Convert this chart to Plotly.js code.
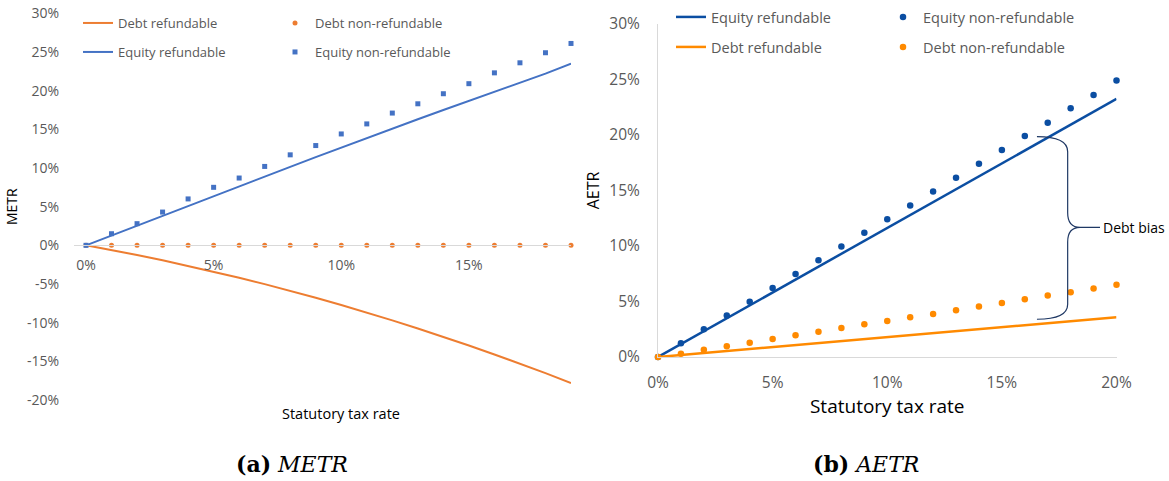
<!DOCTYPE html>
<html>
<head>
<meta charset="utf-8">
<script src="https://cdn.plot.ly/plotly-3.0.1.min.js"></script>
<style>html,body{margin:0;padding:0;background:#fff;}#chart{width:1169px;height:481px;}</style>
</head>
<body>
<div id="chart"></div>
<script>
// ---- Panel (a): METR ----
const taxA = [0,1,2,3,4,5,6,7,8,9,10,11,12,13,14,15,16,17,18,19];
const metrDebtRefundable = [0,-0.61,-1.25,-1.93,-2.65,-3.40,-4.19,-5.02,-5.88,-6.78,-7.72,-8.69,-9.70,-10.75,-11.83,-12.95,-14.11,-15.30,-16.53,-17.80];
const metrDebtNonRefundable = [0,0,0,0,0,0,0,0,0,0,0,0,0,0,0,0,0,0,0,0];
const metrEquityRefundable = [0,1.28,2.55,3.83,5.10,6.37,7.63,8.90,10.15,11.40,12.65,13.88,15.10,16.30,17.50,18.68,19.85,21.00,22.20,23.50];
const metrEquityNonRefundable = [0,1.5,2.8,4.3,6.0,7.5,8.7,10.2,11.7,12.9,14.4,15.7,17.1,18.3,19.6,20.9,22.3,23.6,24.9,26.1];
const ticksAx = [0,5,10,15];
const ticksAxText = ['0%','5%','10%','15%'];
const ticksAy = [-20,-15,-10,-5,0,5,10,15,20,25,30];
const ticksAyText = ['-20%','-15%','-10%','-5%','0%','5%','10%','15%','20%','25%','30%'];

// ---- Panel (b): AETR ----
const taxB = [0,1,2,3,4,5,6,7,8,9,10,11,12,13,14,15,16,17,18,19,20];
const aetrEquityRefundable = [0,1.16,2.33,3.49,4.65,5.81,6.98,8.14,9.30,10.46,11.63,12.79,13.95,15.11,16.28,17.44,18.60,19.76,20.93,22.09,23.25];
const aetrEquityNonRefundable = [0,1.25,2.50,3.75,4.98,6.22,7.47,8.71,9.96,11.20,12.40,13.65,14.90,16.15,17.40,18.65,19.90,21.10,22.40,23.60,24.90];
const aetrDebtRefundable = [0,0.18,0.36,0.54,0.72,0.90,1.07,1.25,1.43,1.61,1.79,1.97,2.15,2.33,2.51,2.69,2.86,3.04,3.22,3.40,3.58];
const aetrDebtNonRefundable = [0,0.30,0.66,0.96,1.29,1.62,1.96,2.28,2.62,2.95,3.25,3.58,3.88,4.21,4.54,4.87,5.20,5.53,5.84,6.16,6.50];
const ticksBx = [0,5,10,15,20];
const ticksBxText = ['0%','5%','10%','15%','20%'];
const ticksBy = [0,5,10,15,20,25,30];
const ticksByText = ['0%','5%','10%','15%','20%','25%','30%'];

const W = 1169, H = 481;
const px = v => v / W;
const py = v => 1 - v / H;

const FONT = 'Open Sans, Noto Sans, sans-serif';
const GREY = '#595959';
const AXL = '#D9D9D9';

const orangeA = '#ED7D31', blueA = '#4472C4';
const blueB = '#0B4EA2', orangeB = '#FF8A00';

const traces = [
  {x: taxA, y: metrDebtRefundable, name: 'Debt refundable', type: 'scatter', mode: 'lines',
   line: {color: orangeA, width: 2}, xaxis: 'x', yaxis: 'y', legend: 'legend', cliponaxis: false},
  {x: taxA, y: metrDebtNonRefundable, name: 'Debt non-refundable', type: 'scatter', mode: 'markers',
   marker: {color: orangeA, size: 5, symbol: 'circle'}, xaxis: 'x', yaxis: 'y', legend: 'legend2', cliponaxis: false},
  {x: taxA, y: metrEquityRefundable, name: 'Equity refundable', type: 'scatter', mode: 'lines',
   line: {color: blueA, width: 2}, xaxis: 'x', yaxis: 'y', legend: 'legend3', cliponaxis: false},
  {x: taxA, y: metrEquityNonRefundable, name: 'Equity non-refundable', type: 'scatter', mode: 'markers',
   marker: {color: blueA, size: 5, symbol: 'square'}, xaxis: 'x', yaxis: 'y', legend: 'legend4', cliponaxis: false},

  {x: taxB, y: aetrEquityRefundable, name: 'Equity refundable', type: 'scatter', mode: 'lines',
   line: {color: blueB, width: 2.5}, xaxis: 'x2', yaxis: 'y2', legend: 'legend5', cliponaxis: false},
  {x: taxB, y: aetrEquityNonRefundable, name: 'Equity non-refundable', type: 'scatter', mode: 'markers',
   marker: {color: blueB, size: 6.5, symbol: 'circle'}, xaxis: 'x2', yaxis: 'y2', legend: 'legend6', cliponaxis: false},
  {x: taxB, y: aetrDebtRefundable, name: 'Debt refundable', type: 'scatter', mode: 'lines',
   line: {color: orangeB, width: 2.5}, xaxis: 'x2', yaxis: 'y2', legend: 'legend7', cliponaxis: false},
  {x: taxB, y: aetrDebtNonRefundable, name: 'Debt non-refundable', type: 'scatter', mode: 'markers',
   marker: {color: orangeB, size: 6.5, symbol: 'circle'}, xaxis: 'x2', yaxis: 'y2', legend: 'legend8', cliponaxis: false}
];

const yDomA = [py(400), py(13.3)];
const yRangeA = [-20, 30];
const zeroPosA = yDomA[0] + (0 - yRangeA[0]) / (yRangeA[1] - yRangeA[0]) * (yDomA[1] - yDomA[0]);

function leg(xpx, ypx, size) {
  return {x: px(xpx), y: py(ypx), xanchor: 'left', yanchor: 'middle', orientation: 'v',
          bgcolor: 'rgba(0,0,0,0)', borderwidth: 0, font: {family: FONT, size: size, color: GREY}};
}

const layout = {
  width: W, height: H,
  margin: {l: 0, r: 0, t: 0, b: 0},
  paper_bgcolor: '#ffffff', plot_bgcolor: 'rgba(0,0,0,0)',
  font: {family: FONT, color: GREY},
  showlegend: true,
  xaxis: {
    domain: [px(74), px(571)], range: [-0.47, 19], anchor: 'free', position: zeroPosA,
    showgrid: false, zeroline: false, showline: true, linecolor: AXL, linewidth: 1,
    tickvals: ticksAx, ticktext: ticksAxText, ticks: '', ticklabelstandoff: 7,
    tickfont: {family: FONT, size: 14, color: GREY}, automargin: false
  },
  yaxis: {
    domain: yDomA, range: yRangeA, anchor: 'x',
    showgrid: false, zeroline: false, showline: false,
    tickvals: ticksAy, ticktext: ticksAyText, ticks: '', ticklabelstandoff: 14,
    tickfont: {family: FONT, size: 14, color: GREY}, automargin: false,
    title: {text: 'METR', font: {family: FONT, size: 14, color: '#000000'}, standoff: 5}
  },
  xaxis2: {
    domain: [px(658), px(1116.5)], range: [0, 20], anchor: 'y2',
    showgrid: false, zeroline: false, showline: true, linecolor: AXL, linewidth: 1,
    tickvals: ticksBx, ticktext: ticksBxText, ticks: '', ticklabelstandoff: 11,
    tickfont: {family: FONT, size: 15.5, color: GREY}, automargin: false,
    title: {text: 'Statutory tax rate', font: {family: FONT, size: 19, color: '#000000'}, standoff: 1}
  },
  yaxis2: {
    domain: [py(357), py(24)], range: [0, 30], anchor: 'x2',
    showgrid: false, zeroline: false, showline: true, linecolor: AXL, linewidth: 1,
    tickvals: ticksBy, ticktext: ticksByText, ticks: '', ticklabelstandoff: 14,
    tickfont: {family: FONT, size: 15.5, color: GREY}, automargin: false,
    title: {text: 'AETR', font: {family: FONT, size: 16, color: '#000000'}, standoff: 5}
  },
  legend: leg(78, 23, 13),
  legend2: leg(275, 23, 13),
  legend3: leg(78, 52, 13),
  legend4: leg(275, 52, 13),
  legend5: leg(671, 17, 14.5),
  legend6: leg(883, 17, 14.5),
  legend7: leg(671, 47, 14.5),
  legend8: leg(883, 47, 14.5),
  shapes: [
    {type: 'path', xref: 'x2', yref: 'y2',
     path: 'M16.53,19.85 Q17.87,19.85 17.87,18.5 L17.87,13.0 Q17.87,11.68 18.41,11.68 Q17.87,11.68 17.87,10.36 L17.87,4.75 Q17.87,3.40 16.53,3.40 M18.41,11.68 L19.28,11.68',
     line: {color: '#1F3864', width: 1.2}}
  ],
  annotations: [
    {x: px(341), y: py(413), xref: 'paper', yref: 'paper', xanchor: 'center', yanchor: 'middle', showarrow: false,
     text: 'Statutory tax rate', font: {family: FONT, size: 14.5, color: '#000000'}},
    {x: 19.33, y: 11.68, xref: 'x2', yref: 'y2', xanchor: 'left', yanchor: 'middle', showarrow: false,
     text: 'Debt bias', font: {family: FONT, size: 14, color: '#000000'}},
    {x: px(292), y: py(464), xref: 'paper', yref: 'paper', xanchor: 'center', yanchor: 'middle', showarrow: false,
     text: '<b>(a)</b> <i>METR</i>', font: {family: 'DejaVu Serif, serif', size: 22, color: '#000000'}},
    {x: px(866), y: py(464), xref: 'paper', yref: 'paper', xanchor: 'center', yanchor: 'middle', showarrow: false,
     text: '<b>(b)</b> <i>AETR</i>', font: {family: 'DejaVu Serif, serif', size: 22, color: '#000000'}}
  ]
};

Plotly.newPlot('chart', traces, layout, {displayModeBar: false, staticPlot: true});
</script>
</body>
</html>
